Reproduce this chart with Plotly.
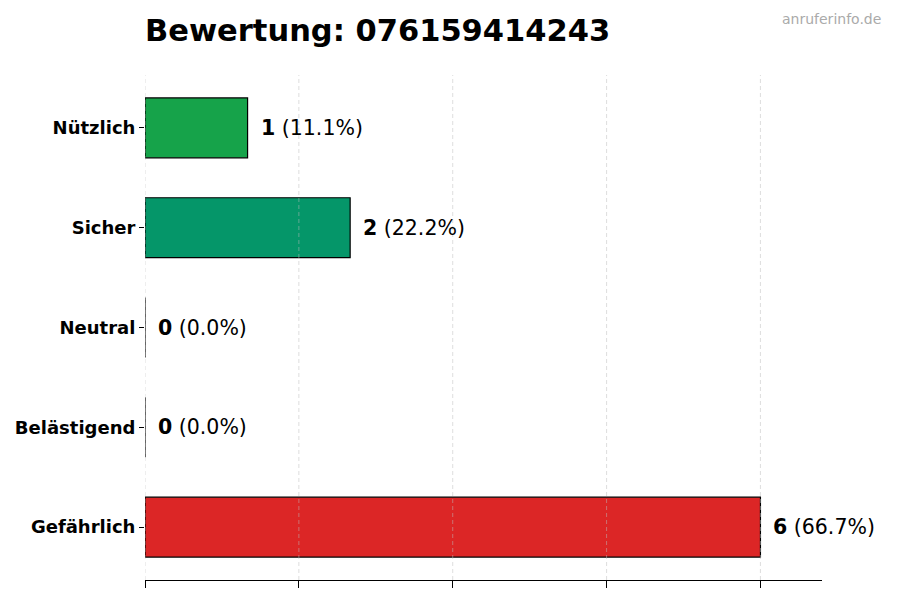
import plotly.graph_objects as go

TITLE = "Bewertung: 076159414243"
WATERMARK = "anruferinfo.de"

categories = ["Nützlich", "Sicher", "Neutral", "Belästigend", "Gefährlich"]
counts = [1, 2, 0, 0, 6]
colors = ["#16a34a", "#059669", "#6b7280", "#f97316", "#dc2626"]
grid_ticks = [0, 1.5, 3, 4.5, 6]

total = sum(counts)
percents = [c / total * 100 for c in counts]

# the page body adds 8px, so margins are set 8px smaller on left/top
ML, MR, MT, MB = 137, 86, 67, 28
PW, PH = 900 - ML - MR, 600 - MT - MB

fig = go.Figure()

fig.add_trace(go.Bar(
    x=counts,
    y=categories,
    orientation="h",
    width=0.6,
    marker=dict(color=colors, line=dict(color="black", width=1.2)),
    hoverinfo="skip",
))

# value labels right of each bar
for cat, c, p in zip(categories, counts, percents):
    fig.add_annotation(
        x=c, y=cat,
        text=f"<b>{c}</b> ({p:.1f}%)",
        showarrow=False,
        xanchor="left",
        xshift=11,
        font=dict(size=20.5, color="black", family="DejaVu Sans"),
    )

# watermark top right
fig.add_annotation(
    x=(875 - ML) / PW, y=1 + (MT - 1) / PH,
    xref="paper", yref="paper",
    xanchor="right", yanchor="top",
    text=WATERMARK,
    showarrow=False,
    font=dict(size=14, color="#aaaaaa", family="DejaVu Sans"),
)

# dashed grid drawn over the bars, like matplotlib
for t in grid_ticks:
    fig.add_shape(
        type="line", xref="x", yref="paper",
        x0=t, x1=t, y0=0, y1=1,
        line=dict(color="rgba(190,190,190,0.5)", width=1, dash="4px,3px"),
        layer="above",
    )

fig.update_layout(
    width=900,
    height=600,
    paper_bgcolor="white",
    plot_bgcolor="white",
    showlegend=False,
    margin=dict(l=ML, r=MR, t=MT, b=MB, autoexpand=False),
    title=dict(
        text=f"<b>{TITLE}</b>",
        x=ML / 900, xanchor="left",
        y=1 - 22 / 600, yanchor="middle",
        font=dict(size=30.5, color="black", family="DejaVu Sans"),
    ),
)

fig.update_xaxes(
    range=[0, 6.6],
    tickvals=grid_ticks,
    showticklabels=False,
    ticks="outside",
    ticklen=7,
    tickcolor="black",
    showgrid=False,
    showline=True,
    linecolor="black",
    linewidth=1.2,
    zeroline=False,
)

fig.update_yaxes(
    categoryorder="array",
    categoryarray=categories[::-1],
    range=[-0.53, 4.53],
    ticks="outside",
    ticklen=5,
    tickcolor="black",
    showline=False,
    showgrid=False,
    zeroline=False,
    tickfont=dict(size=18, color="black", family="DejaVu Sans"),
    ticklabelstandoff=0,
    tickvals=categories,
    ticktext=[f"<b>{c}</b>" for c in categories],
)

fig.write_html("out.html")
